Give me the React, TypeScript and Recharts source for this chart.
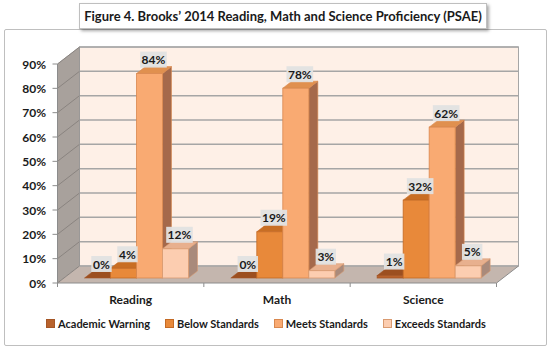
import { BarChart, Bar, XAxis, YAxis, ReferenceArea, LabelList, Legend } from "recharts";

const categories = ["Reading", "Math", "Science"];
const academicWarning = [0, 0, 1];
const belowStandards = [4, 19, 32];
const meetsStandards = [84, 78, 62];
const exceedsStandards = [12, 3, 5];
const yTicks = [0, 10, 20, 30, 40, 50, 60, 70, 80, 90];

const series = [
  { key: "aw", name: "Academic Warning", values: academicWarning, front: "#B8622C", top: "#9C4F20", side: "#8C4820", stroke: "#A55626" },
  { key: "below", name: "Below Standards", values: belowStandards, front: "#E8893A", top: "#C86E24", side: "#B0612A", stroke: "#C46A25" },
  { key: "meets", name: "Meets Standards", values: meetsStandards, front: "#F9AA72", top: "#E0904F", side: "#A5694B", stroke: "#D9884F" },
  { key: "exceeds", name: "Exceeds Standards", values: exceedsStandards, front: "#FCCDB0", top: "#E8B08E", side: "#A98A7B", stroke: "#D99A70" },
];

const data = categories.map((category, i) => {
  const row: any = { category };
  series.forEach((s) => (row[s.key] = s.values[i]));
  return row;
});

const W = 550;
const H = 349;
const FONT = "Lato, 'Open Sans', sans-serif";
const M = { top: 59, right: 47, bottom: 41, left: 8 };
const Y_W = 56;
const PLOT_LEFT = M.left + Y_W;
const PLOT_BOTTOM = H - M.bottom - 30;
// axis plane sits in front of the bars, back wall behind them
const FX = -6.5;
const FY = 5;
const DEPTH_X = 22;
const DEPTH_Y = 17;
const BAR_DX = 9;
const BAR_DY = 7;

function Walls(props: any) {
  const { x, y, width, height } = props;
  const fx0 = x + FX;
  const fx1 = x + width + FX;
  const fyTop = y + FY;
  const fyBot = y + height + FY;
  const bx0 = fx0 + DEPTH_X;
  const bx1 = fx1 + DEPTH_X;
  const byTop = fyTop - DEPTH_Y;
  const byBot = fyBot - DEPTH_Y;
  const lines = yTicks.map((t) => fyTop + height * (1 - t / 90));
  return (
    <g>
      <rect x={bx0} y={byTop} width={bx1 - bx0} height={byBot - byTop} fill="#FEF0E7" stroke="#A6A6A6" />
      <polygon points={`${fx0},${fyTop} ${bx0},${byTop} ${bx0},${byBot} ${fx0},${fyBot}`} fill="#A8A19C" stroke="#8C8C8C" strokeWidth={0.5} />
      <polygon points={`${fx0},${fyBot} ${fx1},${fyBot} ${bx1},${byBot} ${bx0},${byBot}`} fill="#C4B6AE" />
      {lines.map((ly, i) => (
        <g key={i}>
          <line x1={bx0} x2={bx1} y1={ly - DEPTH_Y} y2={ly - DEPTH_Y} stroke="#A6A6A6" strokeWidth={1.5} />
          <line x1={fx0} x2={bx0} y1={ly} y2={ly - DEPTH_Y} stroke="#8A8480" strokeWidth={1} />
        </g>
      ))}
      <line x1={fx0} x2={fx0} y1={fyTop} y2={fyBot} stroke="#8C8C8C" />
      <line x1={fx0} x2={fx1} y1={fyBot} y2={fyBot} stroke="#8C8C8C" />
      <line x1={fx1} x2={bx1} y1={fyBot} y2={byBot} stroke="#8C8C8C" />
      {categories.concat("").map((_, i) => {
        const tx = fx0 + (i * width) / categories.length;
        return <line key={i} x1={tx} x2={tx} y1={fyBot} y2={fyBot + 4} stroke="#8C8C8C" />;
      })}
    </g>
  );
}

function Box3D(props: any) {
  const { x, y, width, height, c } = props;
  const w = width;
  const h = Math.max(height, 0);
  return (
    <g>
      {h > 0 && (
        <polygon
          points={`${x + w},${y} ${x + w + BAR_DX},${y - BAR_DY} ${x + w + BAR_DX},${y + h - BAR_DY} ${x + w},${y + h}`}
          fill={c.side}
          stroke={c.stroke}
          strokeWidth={0.6}
        />
      )}
      <polygon
        points={`${x},${y} ${x + BAR_DX},${y - BAR_DY} ${x + w + BAR_DX},${y - BAR_DY} ${x + w},${y}`}
        fill={c.top}
        stroke={c.stroke}
        strokeWidth={0.6}
      />
      {h > 0 && <rect x={x} y={y} width={w} height={h} fill={c.front} stroke={c.stroke} strokeWidth={0.8} />}
    </g>
  );
}

function ValueLabel(props: any) {
  const { x, y, width, value } = props;
  const txt = `${value}%`;
  const bw = 8 + txt.length * 6.2;
  const cx = x + width / 2 + 4;
  const cy = y - 14;
  return (
    <g>
      <rect x={cx - bw / 2} y={cy - 8} width={bw} height={16} fill="#E2E2E2" fillOpacity={0.95} />
      <text x={cx} y={cy} textAnchor="middle" dominantBaseline="central" fontFamily={FONT} fontWeight={700} fontSize={12} fill="#1A1A1A">
        {txt}
      </text>
    </g>
  );
}

function YTick(props: any) {
  const { y, payload } = props;
  const ay = y + FY;
  const ax = PLOT_LEFT + FX;
  return (
    <g>
      <line x1={ax - 5} x2={ax} y1={ay} y2={ay} stroke="#8C8C8C" />
      <text x={46} y={ay} textAnchor="end" dominantBaseline="central" fontFamily={FONT} fontWeight={700} fontSize={12} fill="#1A1A1A">
        {payload.value}%
      </text>
    </g>
  );
}

function XTick(props: any) {
  const { x, payload } = props;
  return (
    <text x={x + FX} y={PLOT_BOTTOM + 21} textAnchor="middle" dominantBaseline="central" fontFamily={FONT} fontWeight={700} fontSize={12} fill="#1A1A1A">
      {payload.value}
    </text>
  );
}

function LegendBox() {
  return (
    <div style={{ display: "flex", paddingLeft: 46, gap: 15, fontFamily: FONT, fontWeight: 700, fontSize: 11, color: "#1A1A1A", alignItems: "center" }}>
      {series.map((s) => (
        <div key={s.key} style={{ display: "flex", alignItems: "center", gap: 3 }}>
          <span style={{ display: "inline-block", width: 7, height: 7, background: s.front, border: `1px solid ${s.stroke}` }} />
          <span>{s.name}</span>
        </div>
      ))}
    </div>
  );
}

export default function App() {
  return (
    <div style={{ position: "absolute", left: 0, top: 0, width: W, height: H, background: "#fff" }}>
      <div style={{ position: "absolute", left: 4, top: 29, width: 541, height: 315, border: "1px solid #BFBFBF", borderRadius: 2 }} />
      <div style={{ position: "absolute", left: 0, top: 0 }}>
        <BarChart width={W} height={H} data={data} margin={M} barCategoryGap="14%" barGap={0}>
          <XAxis dataKey="category" axisLine={false} tickLine={false} tick={<XTick />} height={30} />
          <YAxis domain={[0, 90]} ticks={yTicks} width={Y_W} axisLine={false} tickLine={false} tick={<YTick />} interval={0} />
          <ReferenceArea y1={0} y2={90} shape={<Walls />} ifOverflow="visible" />
          {series.map((s) => (
            <Bar key={s.key} dataKey={s.key} name={s.name} fill={s.front} isAnimationActive={false} shape={(p: any) => <Box3D {...p} c={s} />}>
              <LabelList dataKey={s.key} content={<ValueLabel />} />
            </Bar>
          ))}
          <Legend layout="horizontal" verticalAlign="middle" align="center" wrapperStyle={{ top: 317, left: 0, width: W }} content={<LegendBox />} />
        </BarChart>
      </div>
      <div
        style={{
          position: "absolute",
          left: 79,
          top: 3,
          width: 406,
          height: 24,
          background: "#fff",
          border: "1px solid #BFBFBF",
          boxShadow: "2px 2px 3px rgba(0,0,0,0.35)",
          fontFamily: FONT,
          fontWeight: 700,
          fontSize: 13,
          lineHeight: "24px",
          textAlign: "center",
          color: "#1A1A1A",
          whiteSpace: "nowrap",
        }}
      >
        Figure 4. Brooks’ 2014 Reading, Math and Science Proficiency (PSAE)
      </div>
    </div>
  );
}
